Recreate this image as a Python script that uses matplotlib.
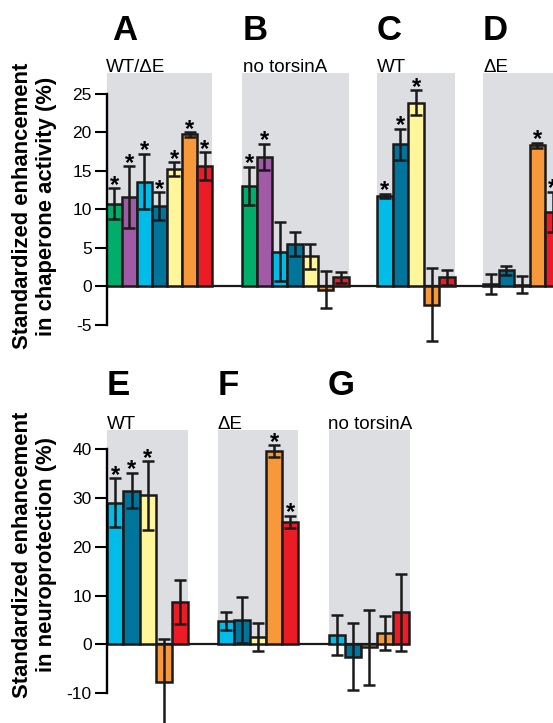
import matplotlib
matplotlib.use("Agg")
import matplotlib.pyplot as plt
from matplotlib.patches import Rectangle

plt.rcParams['font.family'] = ['Liberation Sans', 'DejaVu Sans']
plt.rcParams['axes.unicode_minus'] = False

# --- colours ---
green, purple, cyan = '#00ad6b', '#a15aa6', '#00bce9'
teal, yellow, orange, red = '#00759b', '#fff59b', '#f7993a', '#ec1c26'
gray = '#dcdee2'

five = [cyan, teal, yellow, orange, red]
seven = [green, purple, cyan, teal, yellow, orange, red]

# --- data ---
# chaperone activity
A_vals = [10.7, 11.6, 13.6, 10.4, 15.2, 19.7, 15.6]
A_err = [2.0, 4.0, 3.6, 1.8, 0.9, 0.3, 1.8]
A_sig = [1, 1, 1, 1, 1, 1, 1]
B_vals = [13.0, 16.8, 4.5, 5.5, 3.9, -0.4, 1.2]
B_err = [2.5, 1.7, 3.8, 1.5, 1.6, 2.4, 0.7]
B_sig = [1, 1, 0, 0, 0, 0, 0]
C_vals = [11.7, 18.4, 23.8, -2.35, 1.2]
C_err = [0.3, 2.0, 1.6, 4.75, 1.0]
C_sig = [1, 1, 1, 0, 0]
D_vals = [0.3, 2.1, 0.2, 18.3, 9.7]
D_err = [1.3, 0.6, 1.1, 0.3, 2.6]
D_sig = [0, 0, 0, 1, 1]

# neuroprotection
E_vals = [29.0, 31.5, 30.5, -7.8, 8.6]
E_err = [5.0, 3.6, 7.0, 8.9, 4.5]
E_sig = [1, 1, 1, 0, 0]
F_vals = [4.8, 4.9, 1.5, 39.6, 25.1]
F_err = [1.8, 4.7, 2.8, 1.2, 1.2]
F_sig = [0, 0, 0, 1, 1]
G_vals = [1.9, -2.5, -0.6, 2.3, 6.6]
G_err = [4.1, 6.8, 7.7, 3.5, 7.9]
G_sig = [0, 0, 0, 0, 0]

W, H = 553, 723
fig = plt.figure(figsize=(W / 100, H / 100), dpi=100)


def px_axes(x0, x1, y_top, y_bot):
    return fig.add_axes([x0 / W, 1 - y_bot / H, (x1 - x0) / W, (y_bot - y_top) / H])


def style(ax, lo, hi, ticks):
    for s in ['top', 'right', 'bottom']:
        ax.spines[s].set_visible(False)
    ax.spines['left'].set_linewidth(1.7)
    ax.spines['left'].set_bounds(lo, hi)
    ax.spines['left'].set_zorder(5)
    ax.set_yticks(ticks)
    ax.tick_params(axis='y', length=9, width=1.5, pad=2, labelsize=12.5)
    ax.set_xticks([])
    ax.patch.set_visible(False)


def draw_group(ax, start, bw, vals, errs, sig, colors, gray_top):
    ax.add_patch(Rectangle((start, 0), bw * len(vals), gray_top, color=gray, zorder=0, lw=0))
    xs = [start + bw * (i + 0.5) for i in range(len(vals))]
    ax.bar(xs, vals, width=bw, color=colors, edgecolor='#1a1a1a', linewidth=1.8, zorder=3,
           yerr=errs, capsize=4.5, error_kw=dict(elinewidth=1.8, capthick=1.8, ecolor='#1a1a1a', zorder=4))
    for x, v, e, s in zip(xs, vals, errs, sig):
        if s:
            ax.annotate('*', (x, v + e), xytext=(0, -2.5), textcoords='offset points',
                        ha='center', va='baseline', fontsize=17, fontweight='bold', zorder=6)
    return xs[-1] + bw / 2


# --- top row: chaperone activity ---
ax1 = px_axes(107, 575, 286.5 - 28 * 7.72, 286.5 + 8 * 7.72)
ax1.set_xlim(107, 575)
ax1.set_ylim(-8, 28)
style(ax1, -5, 25, [-5, 0, 5, 10, 15, 20, 25])
ax1.axhline(0, color='#1a1a1a', lw=1.6, zorder=2)
draw_group(ax1, 106.5, 15.1, A_vals, A_err, A_sig, seven, 27.7)
draw_group(ax1, 241.5, 15.3, B_vals, B_err, B_sig, seven, 27.7)
draw_group(ax1, 377, 15.6, C_vals, C_err, C_sig, five, 27.7)
draw_group(ax1, 483, 15.5, D_vals, D_err, D_sig, five, 27.7)

# --- bottom row: neuroprotection ---
ax2 = px_axes(107, 575, 644.3 - 45 * 4.88, 644.3 + 17.5 * 4.88)
ax2.set_xlim(107, 575)
ax2.set_ylim(-17.5, 45)
style(ax2, -10, 40, [-10, 0, 10, 20, 30, 40])
draw_group(ax2, 107.5, 16, E_vals, E_err, E_sig, five, 43.9)
draw_group(ax2, 218, 16, F_vals, F_err, F_sig, five, 43.9)
g_end = draw_group(ax2, 328.5, 16.2, G_vals, G_err, G_sig, five, 43.9)
ax2.hlines(0, 107, g_end, color='#1a1a1a', lw=1.6, zorder=2)

# --- labels ---
def ftext(x, y, s, **kw):
    fig.text(x / W, 1 - y / H, s, **kw)


letters = [('A', 112, 40), ('B', 243, 40), ('C', 377, 40), ('D', 483, 40),
           ('E', 107, 395), ('F', 218, 395), ('G', 328, 395)]
for s, x, y in letters:
    ftext(x, y, s, fontsize=25, fontweight='bold', ha='left', va='baseline')

groups = [('WT/ΔE', 106, 72), ('no torsinA', 243, 72), ('WT', 377, 72), ('ΔE', 483, 72),
          ('WT', 107, 429), ('ΔE', 218, 429), ('no torsinA', 328, 429)]
for s, x, y in groups:
    ftext(x, y, s, fontsize=13.5, ha='left', va='baseline')

for yc, l2 in [(206, 'in chaperone activity (%)'), (555, 'in neuroprotection (%)')]:
    ftext(23, yc, 'Standardized enhancement', rotation=90, fontsize=15.8,
          fontweight='bold', ha='center', va='center')
    ftext(47, yc, l2, rotation=90, fontsize=15.8, fontweight='bold', ha='center', va='center')

fig.savefig('out.png', dpi=100)
